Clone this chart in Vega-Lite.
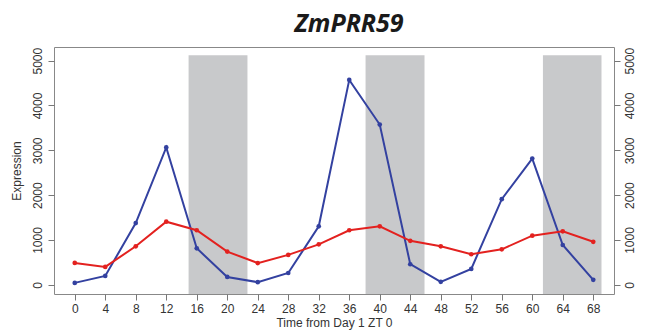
{
  "$schema": "https://vega.github.io/schema/vega-lite/v6.json",
  "autosize": {"type": "none"},
  "padding": {"left": 54, "top": 47, "right": 36, "bottom": 40},
  "width": 560,
  "height": 247,
  "background": "white",
  "title": {
    "text": "ZmPRR59",
    "font": "Open Sans",
    "fontSize": 25,
    "fontWeight": "bold",
    "fontStyle": "italic",
    "color": "#1a1a1a",
    "anchor": "middle",
    "dx": 15,
    "offset": 10
  },
  "config": {
    "view": {"stroke": "#888888", "strokeWidth": 1},
    "axis": {
      "labelFont": "Liberation Sans",
      "titleFont": "Liberation Sans",
      "labelFontSize": 12,
      "titleFontSize": 12,
      "labelColor": "#333333",
      "titleColor": "#333333",
      "titleFontWeight": "normal",
      "tickColor": "#777777",
      "tickSize": 6,
      "domain": false,
      "grid": false
    }
  },
  "datasets": {
    "series": [
      {"t": 0, "expr": 44, "line": "blue"},
      {"t": 4, "expr": 200, "line": "blue"},
      {"t": 8, "expr": 1378, "line": "blue"},
      {"t": 12, "expr": 3065, "line": "blue"},
      {"t": 16, "expr": 815, "line": "blue"},
      {"t": 20, "expr": 176, "line": "blue"},
      {"t": 24, "expr": 60, "line": "blue"},
      {"t": 28, "expr": 264, "line": "blue"},
      {"t": 32, "expr": 1306, "line": "blue"},
      {"t": 36, "expr": 4570, "line": "blue"},
      {"t": 40, "expr": 3575, "line": "blue"},
      {"t": 44, "expr": 460, "line": "blue"},
      {"t": 48, "expr": 67, "line": "blue"},
      {"t": 52, "expr": 356, "line": "blue"},
      {"t": 56, "expr": 1911, "line": "blue"},
      {"t": 60, "expr": 2816, "line": "blue"},
      {"t": 64, "expr": 889, "line": "blue"},
      {"t": 68, "expr": 111, "line": "blue"},
      {"t": 0, "expr": 489, "line": "red"},
      {"t": 4, "expr": 400, "line": "red"},
      {"t": 8, "expr": 860, "line": "red"},
      {"t": 12, "expr": 1409, "line": "red"},
      {"t": 16, "expr": 1218, "line": "red"},
      {"t": 20, "expr": 742, "line": "red"},
      {"t": 24, "expr": 485, "line": "red"},
      {"t": 28, "expr": 668, "line": "red"},
      {"t": 32, "expr": 903, "line": "red"},
      {"t": 36, "expr": 1218, "line": "red"},
      {"t": 40, "expr": 1306, "line": "red"},
      {"t": 44, "expr": 982, "line": "red"},
      {"t": 48, "expr": 860, "line": "red"},
      {"t": 52, "expr": 682, "line": "red"},
      {"t": 56, "expr": 793, "line": "red"},
      {"t": 60, "expr": 1096, "line": "red"},
      {"t": 64, "expr": 1193, "line": "red"},
      {"t": 68, "expr": 960, "line": "red"}
    ],
    "dark": [
      {"start": 14.93, "end": 22.65},
      {"start": 38.14, "end": 45.87},
      {"start": 61.4, "end": 69.08}
    ]
  },
  "encoding": {
    "x": {
      "type": "quantitative",
      "scale": {"domain": [-2.72, 70.72], "nice": false, "zero": false},
      "axis": {
        "title": "Time from Day 1 ZT 0",
        "values": [0, 4, 8, 12, 16, 20, 24, 28, 32, 36, 40, 44, 48, 52, 56, 60, 64, 68],
        "labelPadding": 3,
        "titlePadding": 3
      }
    }
  },
  "resolve": {"scale": {"y": "shared"}},
  "layer": [
    {
      "data": {"name": "dark"},
      "mark": {"type": "rect", "color": "#c8c9cb"},
      "encoding": {
        "x": {"field": "start", "type": "quantitative"},
        "x2": {"field": "end"},
        "y": {"datum": 5120, "type": "quantitative", "scale": {"domain": [-204, 5304], "nice": false, "zero": false}, "axis": {"title": "Expression", "orient": "left", "values": [0, 1000, 2000, 3000, 4000, 5000], "format": "d", "labelAngle": -90, "labelAlign": "center", "labelBaseline": "bottom", "labelPadding": 4, "titlePadding": 8}},
        "y2": {"datum": -204}
      }
    },
    {
      "data": {"name": "series"},
      "mark": {"type": "line", "strokeWidth": 2, "point": {"size": 22, "filled": true}},
      "encoding": {
        "x": {"field": "t", "type": "quantitative"},
        "y": {"field": "expr", "type": "quantitative", "axis": {"title": null, "orient": "right", "values": [0, 1000, 2000, 3000, 4000, 5000], "format": "d", "labelAngle": -90, "labelAlign": "center", "labelBaseline": "top", "labelPadding": 4}},
        "color": {"field": "line", "type": "nominal", "scale": {"domain": ["blue", "red"], "range": ["#3341a0", "#e3211f"]}, "legend": null}
      }
    }
  ]
}
